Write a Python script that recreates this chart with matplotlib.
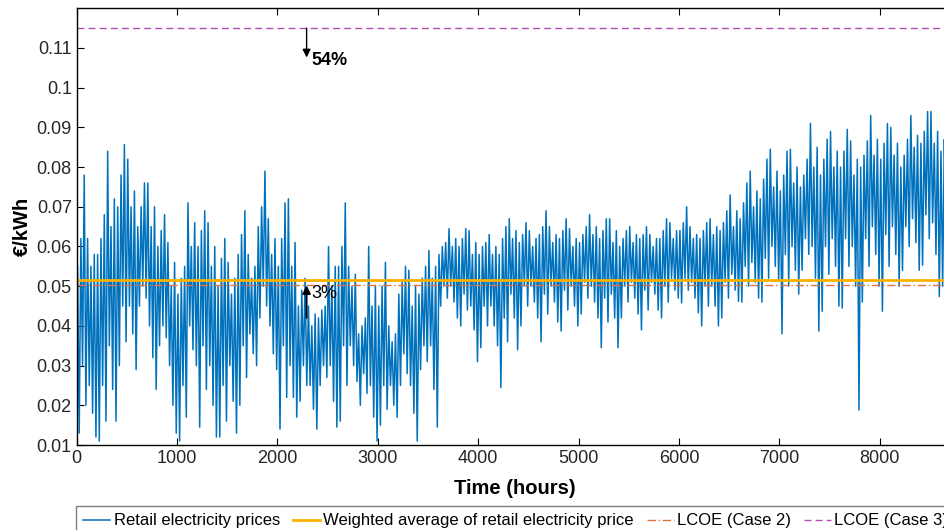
import numpy as np
import matplotlib
matplotlib.use('Agg')
import matplotlib.pyplot as plt
from matplotlib.ticker import FuncFormatter

plt.rcParams['font.family'] = ['Liberation Sans', 'DejaVu Sans']

# hourly retail price per 100 h block:
# highest / lowest spike, a second peak / trough, and the dense band edges
block_hours = 100
price_hi = [.078, .062, .068, .084, .0857, .082, .076, .076, .068, .061,
            .055, .071, .069, .066, .062, .056, .069, .058, .079, .067,
            .071, .072, .052, .045, .045, .060, .071, .055, .042, .060,
            .056, .040, .055, .054, .055, .059, .061, .0645, .0645, .064,
            .061, .063, .065, .067, .066, .064, .069, .065, .067, .0645,
            .065, .068, .067, .067, .064, .065, .065, .063, .067, .066,
            .070, .065, .066, .067, .069, .073, .076, .079, .082, .0845,
            .084, .0845, .082, .091, .087, .089, .0895, .0866, .0866, .093,
            .091, .090, .087, .093, .094, .094, .090]
price_lo = [.013, .012, .011, .016, .030, .029, .045, .024, .035, .013,
            .011, .030, .0145, .012, .012, .013, .020, .030, .042, .029,
            .014, .017, .021, .014, .025, .0145, .016, .026, .020, .011,
            .015, .017, .025, .011, .029, .0145, .045, .042, .040, .031,
            .0345, .035, .0245, .034, .040, .042, .036, .041, .0387, .040,
            .043, .042, .0345, .0345, .042, .043, .039, .044, .042, .047,
            .0458, .0433, .040, .040, .042, .0462, .046, .047, .046, .0512,
            .038, .048, .054, .0387, .0437, .045, .0445, .0188, .046, .050,
            .0437, .050, .054, .054, .0553, .0474, .050]
second_hi = [.062, .058, .062, .072, .078, .074, .070, .070, .064, .056,
             .052, .066, .064, .060, .057, .052, .063, .055, .070, .062,
             .062, .061, .049, .043, .044, .055, .060, .053, .040, .050,
             .050, .038, .051, .050, .052, .055, .060, .062, .062, .061,
             .060, .060, .062, .064, .063, .062, .065, .063, .064, .062,
             .063, .065, .064, .064, .062, .063, .063, .062, .064, .064,
             .066, .063, .064, .065, .066, .069, .071, .074, .077, .079,
             .078, .080, .078, .085, .082, .084, .084, .082, .083, .087,
             .086, .086, .083, .088, .089, .089, .087]
second_lo = [.020, .018, .016, .024, .036, .038, .047, .032, .037, .020,
             .017, .034, .024, .020, .016, .021, .027, .033, .045, .033,
             .022, .022, .025, .019, .027, .021, .025, .030, .023, .017,
             .019, .020, .028, .018, .031, .024, .047, .046, .044, .039,
             .040, .040, .036, .042, .045, .046, .043, .046, .044, .045,
             .047, .046, .041, .042, .046, .047, .044, .048, .046, .049,
             .049, .047, .045, .045, .047, .049, .050, .051, .052, .055,
             .050, .054, .058, .052, .053, .055, .055, .050, .055, .058,
             .055, .058, .060, .061, .062, .058, .059]
band_hi = [.055, .055, .058, .065, .070, .070, .065, .065, .060, .050,
           .048, .060, .060, .055, .050, .048, .058, .052, .065, .058,
           .055, .055, .045, .040, .042, .050, .055, .050, .038, .045,
           .045, .036, .048, .045, .048, .052, .058, .060, .060, .058,
           .058, .058, .058, .062, .061, .060, .063, .061, .062, .060,
           .061, .063, .062, .061, .060, .061, .062, .060, .062, .062,
           .064, .062, .062, .063, .064, .065, .067, .070, .072, .075,
           .074, .076, .075, .080, .078, .080, .080, .078, .080, .083,
           .082, .083, .080, .085, .086, .086, .084]
band_lo = [.030, .025, .025, .035, .045, .045, .050, .040, .040, .030,
           .025, .040, .035, .030, .025, .030, .035, .038, .050, .040,
           .035, .030, .030, .025, .030, .030, .035, .035, .028, .025,
           .025, .025, .033, .025, .035, .035, .050, .050, .048, .045,
           .045, .045, .042, .048, .050, .050, .048, .050, .049, .050,
           .051, .050, .047, .048, .050, .051, .049, .051, .050, .052,
           .052, .051, .050, .050, .051, .053, .055, .056, .057, .060,
           .058, .060, .062, .060, .060, .062, .062, .060, .062, .065,
           .063, .065, .065, .067, .068, .066, .066]

weighted_avg = 0.0516
lcoe_case2 = 0.0502
lcoe_case3 = 0.115

arrow_hour = 2290
arrow54 = (0.115, 0.1076)
arrow3 = (0.042, 0.0502)

yticks = [0.01, 0.02, 0.03, 0.04, 0.05, 0.06, 0.07, 0.08, 0.09, 0.1, 0.11]
xticks = [0, 1000, 2000, 3000, 4000, 5000, 6000, 7000, 8000]

# build the line: 6 vertices per block, order flipped on odd blocks
ph, pl, sh, sl, bh, bl = map(np.array, (price_hi, price_lo, second_hi,
                                        second_lo, band_hi, band_lo))
even = np.column_stack([bh, pl, sh, bl, ph, sl])
odd = np.column_stack([ph, bl, bh, sl, sh, pl])
blocks = np.where((np.arange(len(ph)) % 2 == 0)[:, None], even, odd)
vals = blocks.ravel()
hours = np.arange(len(vals)) * (block_hours / 6) + block_hours / 12

fig = plt.figure(figsize=(9.45, 5.3), dpi=100)
ax = fig.add_axes([76.7 / 945, 85 / 530, 879.5 / 945, 436.7 / 530])

l1, = ax.plot(hours, vals, color='#0072BD', lw=1.1, label='Retail electricity prices')
l2 = ax.axhline(weighted_avg, color='#F9B000', lw=2,
                label='Weighted average of retail electricity price')
l3 = ax.axhline(lcoe_case2, color='#E3703F', lw=1, ls='-.', dashes=(6, 2, 1, 2),
                label='LCOE (Case 2)')
l4 = ax.axhline(lcoe_case3, color='#B24DB5', lw=1, ls='--', dashes=(5, 3),
                label='LCOE (Case 3)')

ax.annotate('', xy=(arrow_hour, arrow54[1]), xytext=(arrow_hour, arrow54[0]),
            arrowprops=dict(arrowstyle='-|>', color='k', lw=1,
                            mutation_scale=12, shrinkA=0, shrinkB=0))
ax.text(arrow_hour + 50, 0.1068, '54%', fontsize=13, fontweight='bold',
        ha='left', va='center')
ax.annotate('', xy=(arrow_hour, arrow3[1]), xytext=(arrow_hour, arrow3[0]),
            arrowprops=dict(arrowstyle='-|>', color='k', lw=1.3,
                            mutation_scale=12, shrinkA=0, shrinkB=0))
ax.text(arrow_hour + 50, 0.0482, '3%', fontsize=13, ha='left', va='center')

ax.set_xlim(0, 8760)
ax.set_ylim(0.01, 0.12)
ax.set_xticks(xticks)
ax.set_yticks(yticks)
ax.yaxis.set_major_formatter(FuncFormatter(lambda v, p: '%g' % v))
ax.tick_params(direction='in', top=True, right=True, labelsize=13,
               labelcolor='#262626', length=5, width=0.8)
for s in ax.spines.values():
    s.set_linewidth(1)

ax.set_xlabel('Time (hours)', fontsize=14.5, fontweight='bold')
ax.xaxis.set_label_coords((515 - 76.7) / 879.5, -(479 - 445) / 436.7)
ax.set_ylabel('€/kWh', fontsize=14.5, fontweight='bold')
ax.yaxis.set_label_coords(-(76.7 - 32) / 879.5, 0.5)

ax.legend(handles=[l1, l2, l3, l4], loc='upper left', ncol=4,
          bbox_to_anchor=(76 / 945, 1 - 506 / 530), bbox_transform=fig.transFigure,
          fontsize=12, frameon=True, fancybox=False, edgecolor='#808080',
          framealpha=1, borderaxespad=0, handlelength=1.6, handletextpad=0.2,
          columnspacing=0.8, borderpad=0.45)

fig.savefig('out.png', dpi=100)
